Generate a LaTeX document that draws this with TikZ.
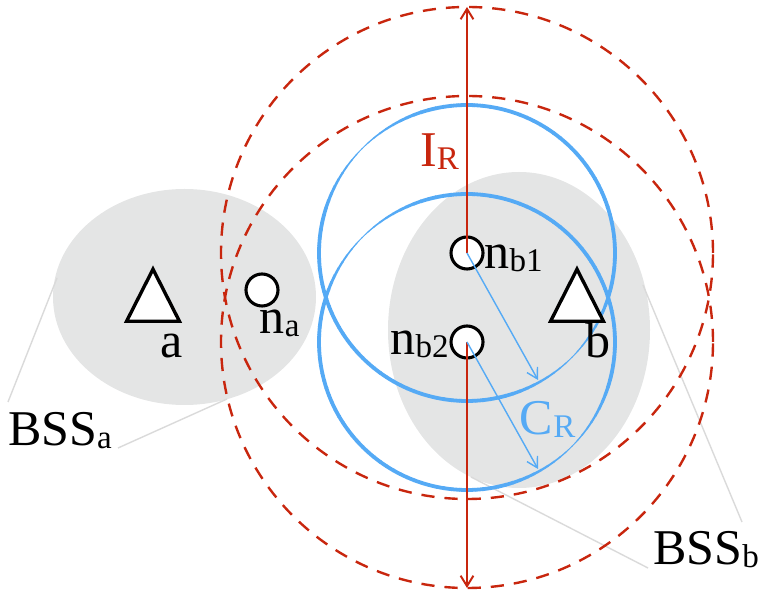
\documentclass[tikz,border=0pt]{standalone}
\usepackage{fontspec}
\setmainfont{Liberation Serif}
\usepackage{xcolor}
\usepackage{tikz}
\usetikzlibrary{arrows.meta}
\usetikzlibrary{backgrounds}
\usetikzlibrary{shapes,shapes.geometric}
\pgfdeclarelayer{edgelayer}
\pgfdeclarelayer{nodelayer}
\pgfsetlayers{background,edgelayer,nodelayer,main}
\definecolor{irred}{RGB}{200,38,14}
\definecolor{crblue}{RGB}{85,170,245}
\definecolor{bssgray}{RGB}{228,229,229}
\definecolor{leadgray}{RGB}{218,218,218}
\newcommand{\lsub}[1]{\raisebox{-2pt}{\fontsize{23.5}{24}\selectfont #1}}
\tikzstyle{none}=[inner sep=0mm]
\tikzstyle{bss}=[shape=ellipse,fill=bssgray,draw=none,inner sep=0mm]
\tikzstyle{station}=[shape=isosceles triangle,shape border rotate=90,isosceles triangle stretches,draw=black,fill=white,line width=2.4pt,inner sep=0mm,minimum width=1.32cm,minimum height=1.3cm,anchor=apex]
\tikzstyle{nd}=[shape=circle,draw=black,fill=white,line width=2.2pt,inner sep=0mm,minimum size=0.8cm]
\tikzstyle{lbl}=[inner sep=0mm,anchor=base,font=\fontsize{35.6}{40}\selectfont]
\tikzstyle{ir}=[draw=irred,line width=1.7pt,dash pattern=on 0.33cm off 0.25cm]
\tikzstyle{irarrow}=[draw=irred,line width=1.4pt,-{Straight Barb[length=0.26cm,width=0.32cm]}]
\tikzstyle{crarrow}=[draw=crblue,line width=1pt,-{Straight Barb[length=0.26cm,width=0.3cm]}]
\tikzstyle{cr}=[draw=crblue,line cap=butt]
\tikzstyle{lead}=[draw=leadgray,line width=1pt]

\begin{document}
\begin{tikzpicture}
	\useasboundingbox (0,0) rectangle (19.05,14.75);
	\begin{pgfonlayer}{background}
		\node [style=bss, minimum width=6.575cm, minimum height=5.4cm] (0) at (4.6125, 7.325) {};
		\node [style=bss, minimum width=6.55cm, minimum height=7.9cm] (1) at (12.975, 6.5) {};
	\end{pgfonlayer}
	\begin{pgfonlayer}{nodelayer}
		\node [style=nd] (2) at (6.55, 7.5) {};
		\node [style=nd] (3) at (11.675, 8.425) {};
		\node [style=nd] (4) at (11.675, 6.2) {};
		\node [style=station] (5) at (3.825, 8.13) {};
		\node [style=station] (27) at (14.425, 8.13) {};
		\node [style=lbl, text=irred] (6) at (10.99, 10.575) {I\lsub{R}};
		\node [style=lbl] (7) at (12.84, 8.025) {n\lsub{b1}};
		\node [style=lbl] (8) at (10.49, 5.875) {n\lsub{b2}};
		\node [style=lbl] (9) at (6.99, 6.4) {n\lsub{a}};
		\node [style=lbl] (10) at (4.3, 5.8) {a};
		\node [style=lbl] (11) at (14.96, 5.8) {b};
		\node [style=lbl, text=crblue] (12) at (13.69, 3.875) {C\lsub{R}};
		\node [style=lbl] (13) at (1.5, 3.6) {BSS\lsub{a}};
		\node [style=lbl] (14) at (17.65, 0.625) {BSS\lsub{b}};
		\node [style=none] (15) at (11.675, 14.575) {};
		\node [style=none] (16) at (11.675, 0.05) {};
		\node [style=none] (17) at (13.45, 5.25) {};
		\node [style=none] (18) at (13.45, 3.025) {};
		\node [style=none] (19) at (0.2, 4.7) {};
		\node [style=none] (20) at (1.425, 7.8) {};
		\node [style=none] (21) at (2.95, 3.55) {};
		\node [style=none] (22) at (5.675, 4.775) {};
		\node [style=none] (23) at (18.55, 1.7) {};
		\node [style=none] (24) at (16.075, 7.625) {};
		\node [style=none] (25) at (16.2, 0.55) {};
		\node [style=none] (26) at (11.775, 2.825) {};
	\end{pgfonlayer}
	\begin{pgfonlayer}{edgelayer}
		\draw [style=lead] (19.center) to (20.center);
		\draw [style=lead] (21.center) to (22.center);
		\draw [style=lead] (23.center) to (24.center);
		\draw [style=lead] (25.center) to (26.center);
		\draw [style=ir] (3.center) circle (6.15);
		\draw [style=ir] (4.center) circle (6.15);
		% coverage circles, thinner towards 135 and 315 degrees
		\foreach \c in {3,4} {
			\foreach \t in {0,3,...,357} {
				\pgfmathsetmacro{\w}{0.6+2.1*min(1,abs(sin(\t+1.5-135))/0.5)}
				\draw [style=cr, line width=\w pt, shift={(\c.center)}] (\t:3.7) arc (\t:\t+3.3:3.7);
			}
		}
	\end{pgfonlayer}
	\draw [style=irarrow] (3.center) to (15.center);
	\draw [style=irarrow] (4.center) to (16.center);
	\draw [style=crarrow] (3.center) to (17.center);
	\draw [style=crarrow] (4.center) to (18.center);
\end{tikzpicture}
\end{document}
